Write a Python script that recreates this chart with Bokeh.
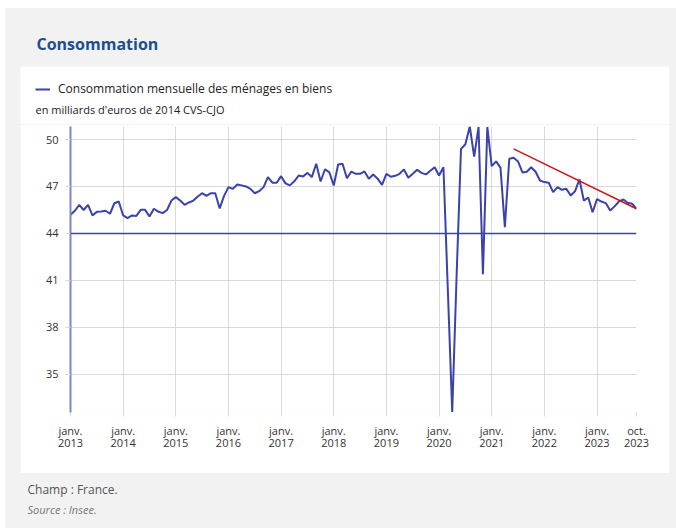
import pandas as pd
from bokeh.plotting import figure
from bokeh.layouts import column
from bokeh.models import (Range1d, FixedTicker, Span, Label, Legend, LegendItem,
                          ColumnDataSource)
from bokeh.embed import file_html
from bokeh.resources import INLINE

# ---- data ----
months = pd.date_range("2013-01-01", "2023-10-01", freq="MS")
consommation = [
    45.20, 45.45, 45.83, 45.50, 45.83, 45.15, 45.38, 45.40, 45.45, 45.26, 45.93, 46.04,   # 2013
    45.15, 44.98, 45.15, 45.12, 45.51, 45.51, 45.09, 45.58, 45.40, 45.30, 45.50, 46.10,   # 2014
    46.32, 46.10, 45.83, 45.98, 46.10, 46.36, 46.57, 46.40, 46.57, 46.57, 45.60, 46.40,   # 2015
    46.96, 46.85, 47.13, 47.07, 47.00, 46.85, 46.57, 46.70, 46.96, 47.60, 47.24, 47.24,   # 2016
    47.66, 47.20, 47.07, 47.33, 47.70, 47.64, 47.87, 47.60, 48.45, 47.32, 48.10, 47.90,   # 2017
    47.06, 48.40, 48.45, 47.53, 47.95, 47.81, 47.81, 47.96, 47.50, 47.77, 47.50, 47.10,   # 2018
    47.81, 47.62, 47.68, 47.81, 48.09, 47.56, 47.81, 48.07, 47.87, 47.77, 48.00, 48.23,   # 2019
    47.70, 48.23, 40.40, 32.60, 41.30, 49.40, 49.70, 50.83, 48.90, 50.80, 41.40, 50.80,   # 2020
    48.30, 48.60, 48.20, 44.40, 48.77, 48.83, 48.60, 47.90, 47.94, 48.23, 47.94, 47.38,   # 2021
    47.28, 47.24, 46.64, 46.96, 46.79, 46.85, 46.43, 46.70, 47.45, 46.10, 46.30, 45.36,   # 2022
    46.20, 46.04, 45.94, 45.47, 45.73, 46.04, 46.17, 45.96, 45.90, 45.58,                 # 2023
]
trend_dates = ["2021-06-01", "2023-10-01"]
trend_values = [49.40, 45.58]
baseline = 44
y_ticks = [35, 38, 41, 44, 47, 50]
x_tick_dates = ["2013-01-01", "2014-01-01", "2015-01-01", "2016-01-01", "2017-01-01",
                "2018-01-01", "2019-01-01", "2020-01-01", "2021-01-01", "2022-01-01",
                "2023-01-01", "2023-10-01"]
x_tick_labels = ["janv.\n2013", "janv.\n2014", "janv.\n2015", "janv.\n2016", "janv.\n2017",
                 "janv.\n2018", "janv.\n2019", "janv.\n2020", "janv.\n2021", "janv.\n2022",
                 "janv.\n2023", "oct.\n2023"]
series_name = "Consommation mensuelle des ménages en biens"
unit_text = "en milliards d'euros de 2014 CVS-CJO"
title_text = "Consommation"
note_text = "Champ : France."
source_text = "Source : Insee."

idx = list(range(len(months)))
pos = {d: i for i, d in enumerate(months)}
x_ticks = [pos[pd.Timestamp(d)] for d in x_tick_dates]
trend_x = [pos[pd.Timestamp(d)] for d in trend_dates]

FONT = "Open Sans"
BLUE = "#3b43ab"
GRAY_BG = "#f2f2f2"


def no_align(f):
    try:
        f.frame_align = False
    except Exception:
        pass
    return f


def blank(width, height, fill, margin=(0, 0, 0, 0)):
    f = figure(width=width, height=height, output_backend="svg", toolbar_location=None,
               x_axis_type=None, y_axis_type=None, x_range=Range1d(0, 1), y_range=Range1d(0, 1),
               min_border=0, min_border_left=0, min_border_right=0,
               min_border_top=0, min_border_bottom=0, margin=margin)
    f.border_fill_color = fill
    f.background_fill_color = fill
    f.outline_line_color = None
    f.grid.visible = False
    return no_align(f)


# ---- header with title ----
head = blank(671, 58, GRAY_BG)
head.add_layout(Label(x=31, y=23, x_units="screen", y_units="screen", text=title_text,
                      text_baseline="middle", text_font=FONT, text_font_size="16px",
                      text_font_style="bold", text_color="#1f4e8c"))

# ---- legend strip (white panel top) ----
leg = blank(649, 58, "white", margin=(0, 7, 0, 15))
proxy_src = ColumnDataSource(dict(x=[float("nan")], y=[float("nan")]))
proxy = leg.line("x", "y", source=proxy_src, line_color=BLUE, line_width=2)
legend = Legend(items=[LegendItem(label=series_name, renderers=[proxy])],
                location=(15, 27), orientation="vertical",
                border_line_color=None, background_fill_alpha=0,
                padding=0, margin=0, spacing=0,
                glyph_width=15, glyph_height=16, label_height=16, label_standoff=8,
                label_text_font=FONT, label_text_font_size="12px", label_text_color="#222222")
leg.add_layout(legend)
leg.add_layout(Label(x=15, y=15, x_units="screen", y_units="screen", text=unit_text,
                     text_baseline="middle", text_font=FONT, text_font_size="11px",
                     text_color="#222222"))

# ---- main chart ----
p = figure(width=649, height=349, output_backend="svg", toolbar_location=None,
           x_range=Range1d(0, len(months) - 1), y_range=Range1d(32.57, 50.83),
           min_border_left=50, min_border_right=33, min_border_top=2, min_border_bottom=61,
           margin=(0, 7, 0, 15))
no_align(p)
p.border_fill_color = "white"
p.background_fill_color = "white"
p.outline_line_color = None

p.xgrid.ticker = FixedTicker(ticks=x_ticks)
p.ygrid.ticker = FixedTicker(ticks=y_ticks)
p.grid.grid_line_color = "#d9d9d9"
p.grid.grid_line_width = 1

xa = p.xaxis[0]
xa.ticker = FixedTicker(ticks=x_ticks)
xa.major_label_overrides = {t: lab for t, lab in zip(x_ticks, x_tick_labels)}
xa.axis_line_color = None
xa.major_tick_line_color = "#d9d9d9"
xa.major_tick_out = 4
xa.major_tick_in = 0
xa.minor_tick_line_color = None
xa.major_label_standoff = 6
xa.major_label_text_line_height = 0.8
xa.major_label_text_font = FONT
xa.major_label_text_font_size = "11px"
xa.major_label_text_color = "#333333"

ya = p.yaxis[0]
ya.ticker = FixedTicker(ticks=y_ticks)
ya.axis_line_color = "#7f85cc"
ya.axis_line_width = 2
ya.major_tick_line_color = "#d9d9d9"
ya.major_tick_out = 5
ya.major_tick_in = 0
ya.minor_tick_line_color = None
ya.major_label_standoff = 7
ya.major_label_text_font = FONT
ya.major_label_text_font_size = "11px"
ya.major_label_text_color = "#333333"

p.add_layout(Span(location=baseline, dimension="width", line_color=BLUE, line_width=1.5))

src = ColumnDataSource(dict(x=idx, y=consommation))
p.line("x", "y", source=src, line_color=BLUE, line_width=2)
p.line(trend_x, trend_values, line_color="#c8171c", line_width=1.5)

# ---- footer ----
foot = blank(671, 55, GRAY_BG)
foot.add_layout(Label(x=22, y=39, x_units="screen", y_units="screen", text=note_text,
                      text_baseline="middle", text_font=FONT, text_font_size="12px",
                      text_color="#555555"))
foot.add_layout(Label(x=22, y=19, x_units="screen", y_units="screen", text=source_text,
                      text_baseline="middle", text_font=FONT, text_font_size="11px",
                      text_font_style="italic", text_color="#777777"))

page = column(head, leg, p, foot, spacing=0, margin=(8, 0, 0, 5),
              styles={"background-color": GRAY_BG})

open("out.html", "w").write(file_html(page, INLINE))
